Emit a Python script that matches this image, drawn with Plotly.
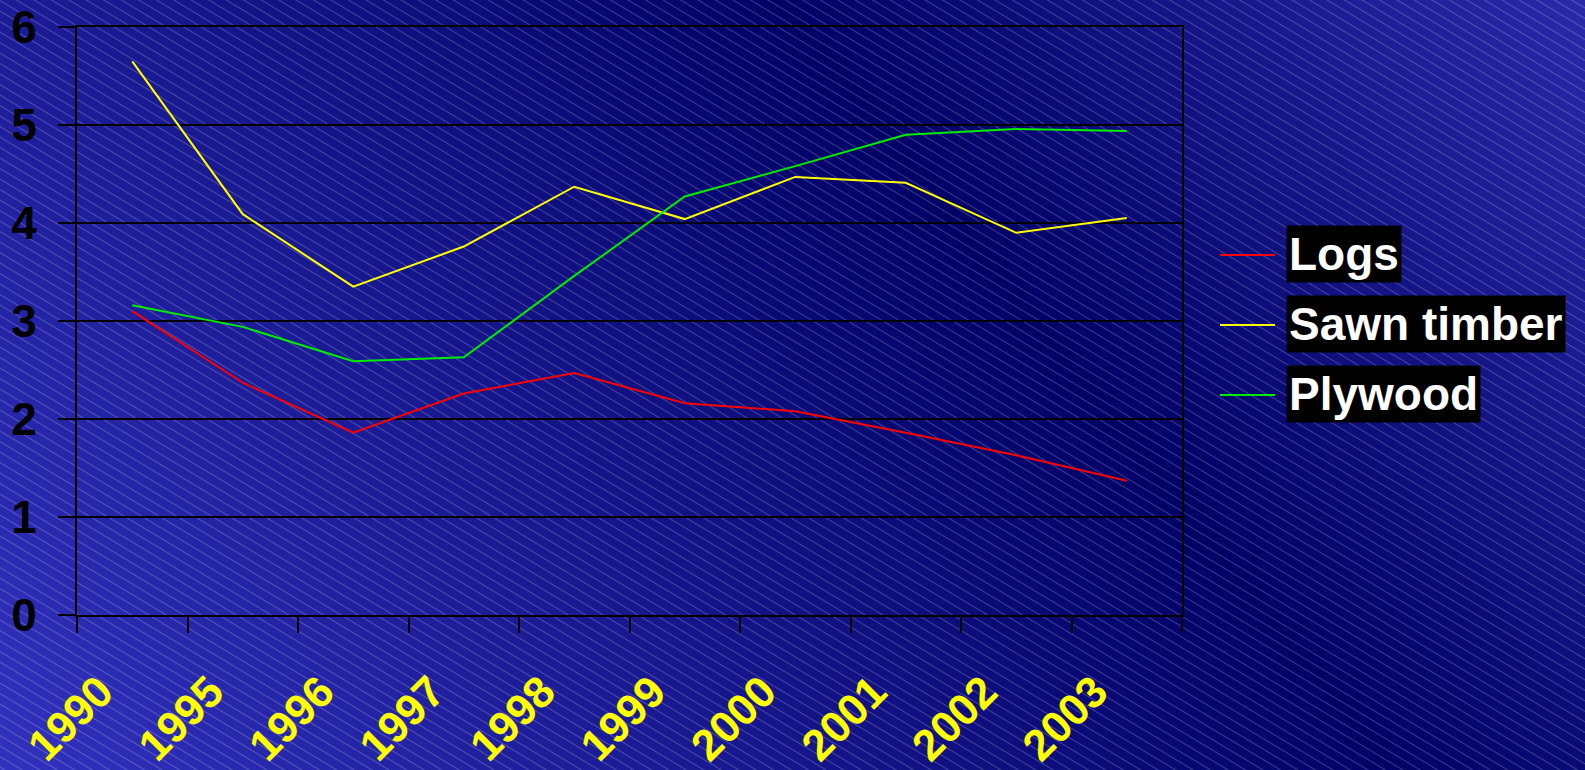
import base64
import plotly.graph_objects as go

# ---- data ----
categories = ['1990', '1995', '1996', '1997', '1998', '1999', '2000', '2001', '2002', '2003']
logs = [3.10, 2.37, 1.86, 2.26, 2.47, 2.16, 2.08, 1.86, 1.63, 1.37]
sawn_timber = [5.65, 4.09, 3.35, 3.76, 4.37, 4.04, 4.47, 4.41, 3.90, 4.05]
plywood = [3.16, 2.94, 2.59, 2.63, 3.46, 4.27, 4.58, 4.90, 4.96, 4.94]
y_ticks = [0, 1, 2, 3, 4, 5, 6]

series = [("Logs", logs, "#ff0000"),
          ("Sawn timber", sawn_timber, "#ffff00"),
          ("Plywood", plywood, "#00ee00")]

W, H = 1585, 770
ML, MR, MT, MB = 77, 403, 27, 155
PW, PH = W - ML - MR, H - MT - MB

FONT = "Liberation Sans, Arial, sans-serif"

# ---- background (gradient + diagonal hatching) ----
svg = f'''<svg xmlns="http://www.w3.org/2000/svg" width="{W}" height="{H}" viewBox="0 0 {W} {H}" preserveAspectRatio="none">
<defs>
<linearGradient id="g" gradientUnits="userSpaceOnUse" x1="0" y1="770" x2="1342" y2="-304">
<stop offset="0" stop-color="#3131be"/>
<stop offset="0.634" stop-color="#010166"/>
<stop offset="1" stop-color="#2929aa"/>
</linearGradient>
<pattern id="p" patternUnits="userSpaceOnUse" width="40" height="9" patternTransform="rotate(31)">
<line x1="0" y1="0.5" x2="40" y2="0.5" stroke="#ffffff" stroke-opacity="0.22" stroke-width="1"/>
</pattern>
</defs>
<rect x="0" y="0" width="{W}" height="{H}" fill="url(#g)"/>
<rect x="0" y="0" width="{W}" height="{H}" fill="url(#p)"/>
</svg>'''
bg_uri = "data:image/svg+xml;base64," + base64.b64encode(svg.encode()).decode()

fig = go.Figure()
for name, vals, col in series:
    fig.add_trace(go.Scatter(x=categories, y=vals, mode="lines", name=name,
                             line=dict(color=col, width=2)))

fig.add_layout_image(dict(source=bg_uri, xref="paper", yref="paper",
                          x=-ML / PW, y=(PH + MT) / PH, sizex=W / PW, sizey=H / PH,
                          xanchor="left", yanchor="top", sizing="stretch", layer="below"))

# ---- custom legend ----
def px_x(px):
    return (px - ML) / PW

def px_y(py):
    return (MT + PH - py) / PH

leg_rows = [255, 325, 395]
for (name, vals, col), ry in zip(series, leg_rows):
    fig.add_shape(type="line", xref="paper", yref="paper",
                  x0=px_x(1220), x1=px_x(1275), y0=px_y(ry), y1=px_y(ry),
                  line=dict(color=col, width=2))
    fig.add_annotation(text=name, xref="paper", yref="paper",
                       x=px_x(1286), y=px_y(ry - 1), xanchor="left", yanchor="middle",
                       showarrow=False, bgcolor="#000000", borderpad=2,
                       font=dict(family=FONT, size=46, color="#ffffff", weight="bold"))

fig.update_layout(
    width=W, height=H,
    margin=dict(l=ML, r=MR, t=MT, b=MB, pad=0),
    paper_bgcolor="#141480",
    plot_bgcolor="rgba(0,0,0,0)",
    showlegend=False,
    xaxis=dict(type="category", categoryorder="array", categoryarray=categories,
               range=[-0.5, len(categories) - 0.5],
               showgrid=False, zeroline=False,
               showline=True, linecolor="#000000", linewidth=2, mirror=True,
               ticks="outside", tickson="boundaries", ticklen=16, tickwidth=2,
               tickcolor="#000000", tickangle=-45, automargin=False,
               ticklabelshift=-32, ticklabelstandoff=31,
               tickfont=dict(family=FONT, size=44, color="#ffff00", weight="bold")),
    yaxis=dict(range=[0, 6], tickvals=y_ticks, ticktext=[str(v) for v in y_ticks],
               showgrid=True, gridcolor="#000000", gridwidth=2, zeroline=False,
               showline=True, linecolor="#000000", linewidth=2, mirror=True,
               ticks="outside", ticklen=17, tickwidth=2, tickcolor="#000000",
               ticklabelstandoff=12, automargin=False,
               tickfont=dict(family=FONT, size=46, color="#000000", weight="bold")),
)

fig.write_html("out.html", config={"displayModeBar": False},
               post_script="document.body.style.margin='0';document.body.style.overflow='hidden';")
